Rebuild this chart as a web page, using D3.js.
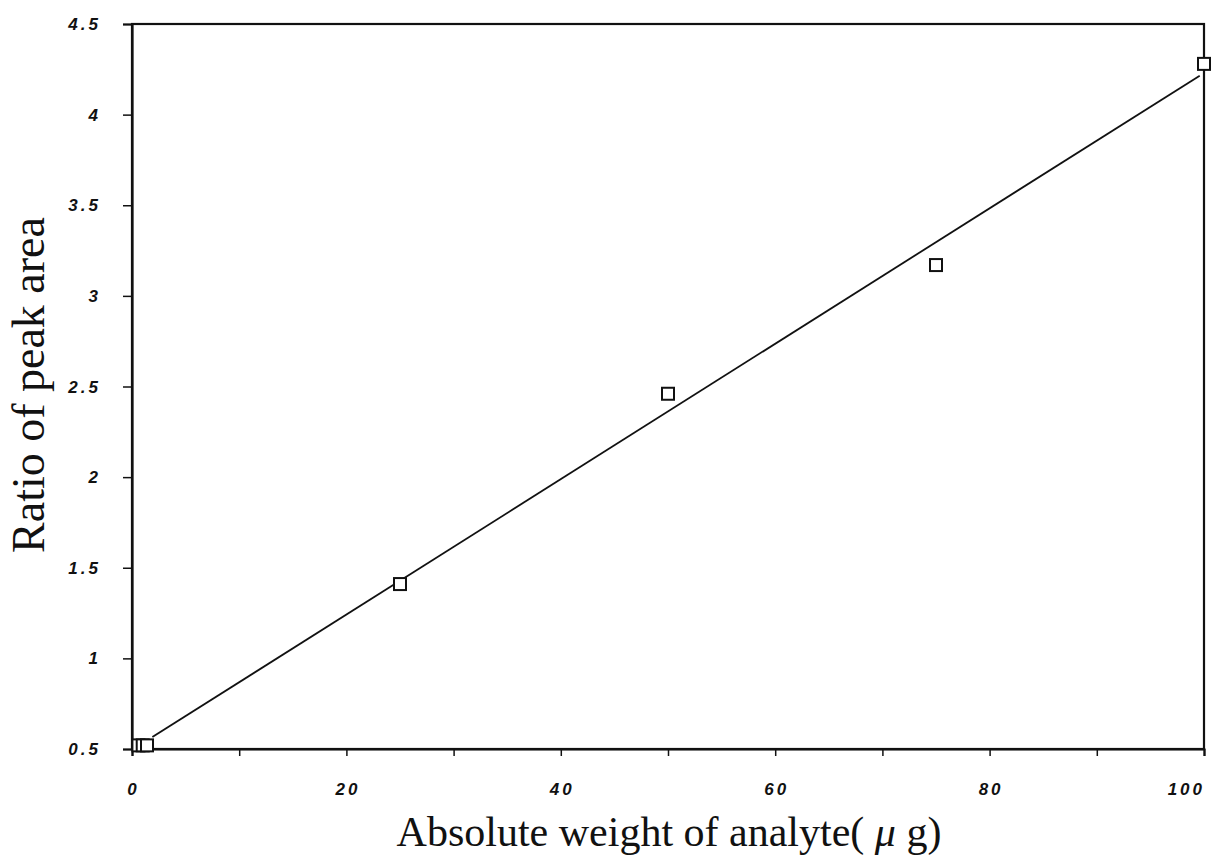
<!DOCTYPE html>
<html>
<head>
<meta charset="utf-8">
<script src="https://cdn.jsdelivr.net/npm/d3@7/dist/d3.min.js"></script>
<style>
  html, body { margin: 0; padding: 0; background: #ffffff; }
  svg { display: block; }
</style>
</head>
<body>
<svg id="chart" width="1226" height="858"></svg>
<script>
// Data
const xValues = [0.6, 1.0, 1.4, 25, 50, 75, 100];
const yValues = [0.52, 0.52, 0.52, 1.41, 2.46, 3.17, 4.28];
// Fitted calibration line endpoints
const fitX = [1.9, 99.6];
const fitY = [0.566, 4.215];
// Tick labels
const xTicks = [0, 20, 40, 60, 80, 100];
const xMinorTicks = [0, 10, 20, 30, 40, 50, 60, 70, 80, 90, 100];
const yTicks = [0.5, 1, 1.5, 2, 2.5, 3, 3.5, 4, 4.5];
const yTickLabels = ["0.5", "1", "1.5", "2", "2.5", "3", "3.5", "4", "4.5"];

const svg = d3.select("#chart");
const margin = { left: 132, right: 22, top: 24, bottom: 109 };
const W = 1226, H = 858;
const x = d3.scaleLinear().domain([0, 100]).range([margin.left, W - margin.right]);
const y = d3.scaleLinear().domain([0.5, 4.5]).range([H - margin.bottom, margin.top]);

const ink = "#111";
const tickFont = "'Liberation Sans', Arial, sans-serif";
const LS = 3;

// Frame
svg.append("rect")
  .attr("x", x(0)).attr("y", y(4.5))
  .attr("width", x(100) - x(0)).attr("height", y(0.5) - y(4.5))
  .attr("fill", "none").attr("stroke", ink).attr("stroke-width", 2.2);

// X axis
const xAxis = d3.axisBottom(x).tickValues(xMinorTicks).tickSize(7).tickFormat("");
const gx = svg.append("g").attr("transform", `translate(0,${y(0.5)})`).call(xAxis);
gx.select(".domain").attr("stroke", ink).attr("stroke-width", 2.2);
gx.selectAll(".tick line").attr("stroke", ink).attr("stroke-width", 1.5);

function styleTick(sel) {
  sel.attr("font-family", tickFont)
    .attr("font-style", "italic").attr("font-weight", "bold")
    .attr("font-size", 17).attr("fill", ink)
    .attr("letter-spacing", LS)
    .attr("text-anchor", "start");
}

const xl = svg.append("g").selectAll("text").data(xTicks).join("text")
  .attr("y", 795)
  .text(d => d)
  .call(styleTick);
xl.each(function (d) {
  const w = this.getComputedTextLength() - LS;
  let cx = x(d) - w / 2;
  if (d === 100) cx = x(d) - w - 2;
  d3.select(this).attr("x", cx);
});

// Y axis
const yAxis = d3.axisLeft(y).tickValues(yTicks).tickSize(9).tickFormat("");
const gy = svg.append("g").attr("transform", `translate(${x(0)},0)`).call(yAxis);
gy.select(".domain").attr("stroke", ink).attr("stroke-width", 2.2);
gy.selectAll(".tick line").attr("stroke", ink).attr("stroke-width", 1.5);

const yl = svg.append("g").selectAll("text").data(yTicks).join("text")
  .attr("y", d => y(d) + 6)
  .text((d, i) => yTickLabels[i])
  .call(styleTick);
yl.each(function () {
  const w = this.getComputedTextLength() - LS;
  d3.select(this).attr("x", 98 - w);
});

// Fit line
svg.append("path")
  .datum(fitX.map((v, i) => [v, fitY[i]]))
  .attr("d", d3.line().x(d => x(d[0])).y(d => y(d[1])))
  .attr("fill", "none").attr("stroke", ink).attr("stroke-width", 1.8);

// Points (open squares)
const s = 12;
svg.append("g").selectAll("rect").data(xValues.map((v, i) => [v, yValues[i]])).join("rect")
  .attr("x", d => x(d[0]) - s / 2).attr("y", d => y(d[1]) - s / 2)
  .attr("width", s).attr("height", s)
  .attr("fill", "#fff").attr("stroke", ink).attr("stroke-width", 2);

// Axis titles
const xt = svg.append("text")
  .attr("x", 669).attr("y", 846)
  .attr("text-anchor", "middle")
  .attr("font-family", "'Liberation Serif', 'DejaVu Serif', serif")
  .attr("font-size", 42).attr("fill", ink);
xt.append("tspan").text("Absolute weight of analyte( ");
xt.append("tspan").attr("font-style", "italic").text("μ");
xt.append("tspan").text(" g)");

svg.append("text")
  .attr("transform", `translate(44,385) rotate(-90)`)
  .attr("text-anchor", "middle")
  .attr("font-family", "'Liberation Serif', 'DejaVu Serif', serif")
  .attr("font-size", 46).attr("fill", ink)
  .text("Ratio of peak area");
</script>
</body>
</html>
